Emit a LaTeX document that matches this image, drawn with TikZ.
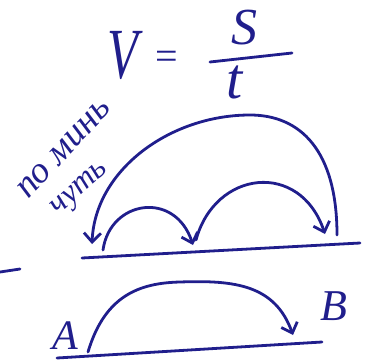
\documentclass[tikz,border=0pt]{standalone}
\usepackage{fontspec}
\setmainfont{Liberation Serif}
\usetikzlibrary{arrows.meta}
\definecolor{ink}{RGB}{32,30,140}
\begin{document}
\begin{tikzpicture}[x=1pt,y=-1pt,
  pen/.style={draw=ink,line width=2.8pt,line cap=round,line join=round},
  arr/.style={pen,-{Straight Barb[length=9pt,width=17pt,line width=2.8pt]}},
  hand/.style={text=ink,inner sep=0pt,font=\itshape}]
\useasboundingbox (0,0) rectangle (374,361);
% formula
\node[hand,font=\itshape\fontsize{72}{72}\selectfont,xscale=0.7] (v) at (123,55) {V};
\node[hand,font=\fontsize{40}{40}\selectfont] (eq) at (167,60) {=};
\node[hand,font=\itshape\fontsize{52}{52}\selectfont] (s) at (244,28) {S};
\node[hand,font=\itshape\fontsize{58}{58}\selectfont] (t) at (235,82) {t};
\coordinate (barl) at (210,62);
\coordinate (barr) at (292,53);
\draw[pen] (barl) -- (barr);
% label
\node[hand,font=\itshape\fontsize{37}{37}\selectfont,rotate=47] (l1) at (64,149) {по минь};
\node[hand,font=\itshape\fontsize{32}{32}\selectfont,rotate=42] (l2) at (81,190) {чуть};
% upper line and dash
\coordinate (b0) at (82,258);
\coordinate (b1) at (360,243);
\draw[pen] (b0) -- (b1);
\coordinate (d0) at (0,272);
\coordinate (d1) at (20,269);
\draw[pen] (d0) -- (d1);
% arcs
\coordinate (r) at (337,235);
\coordinate (top) at (250,115);
\coordinate (lft) at (92,244);
\draw[arr] (r) .. controls (337,150) and (300,115) .. (top)
  .. controls (170,115) and (95,170) .. (lft);
\coordinate (s1a) at (103,250);
\coordinate (s1b) at (193,245);
\draw[arr] (s1a) .. controls (110,200) and (175,190) .. (s1b);
\coordinate (s2a) at (196,240);
\coordinate (s2b) at (325,234);
\draw[arr] (s2a) .. controls (215,170) and (300,160) .. (s2b);
% lower part
\coordinate (g0) at (57,358);
\coordinate (g1) at (322,342);
\draw[pen] (g0) -- (g1);
\coordinate (pa) at (88,352);
\coordinate (pm) at (180,282);
\coordinate (pb) at (293,335);
\draw[arr] (pa) .. controls (105,295) and (140,283) .. (pm)
  .. controls (235,280) and (275,285) .. (pb);
\node[hand,font=\itshape\fontsize{42}{42}\selectfont] (A) at (65,336) {A};
\node[hand,font=\itshape\fontsize{44}{44}\selectfont] (B) at (334,306) {B};
\end{tikzpicture}
\end{document}
